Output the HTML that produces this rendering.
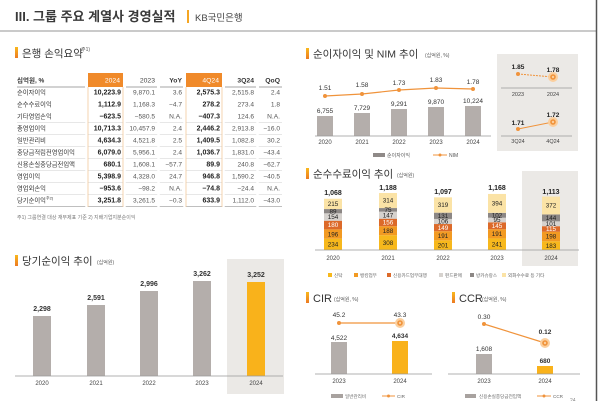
<!DOCTYPE html>
<html><head><meta charset="utf-8"><style>
html,body{margin:0;padding:0;background:#fff;width:600px;height:401px;overflow:hidden}
svg{display:block}
text{font-family:"Liberation Sans","Noto Sans CJK KR",sans-serif}
</style></head><body>
<svg width="600" height="401" viewBox="0 0 600 401" xmlns="http://www.w3.org/2000/svg">
<defs>
<linearGradient id="mk" x1="0" y1="0" x2="0" y2="1"><stop offset="0" stop-color="#f9b81c"/><stop offset="1" stop-color="#ec7a22"/></linearGradient>
</defs>
<rect x="0" y="0" width="600" height="401" fill="#fff"/>
<!-- header -->
<text x="15" y="21" font-size="13" font-weight="bold" fill="#3a3a3a">III. 그룹 주요 계열사 경영실적</text>
<rect x="187" y="10" width="2" height="13" fill="#f5a623"/>
<text x="195" y="21" font-size="9.5" fill="#444">KB국민은행</text>
<line x1="0" y1="31" x2="597" y2="31" stroke="#b8b8b8" stroke-width="1.5"/>
<line x1="596.5" y1="0" x2="596.5" y2="401" stroke="#555" stroke-width="1.5"/>

<!-- table section -->
<rect x="15" y="47" width="3" height="11" fill="url(#mk)"/>
<text x="22" y="57" font-size="10.5" fill="#333">은행 손익요약</text>
<text x="81" y="51" font-size="5" fill="#555">주1)</text>

<rect x="88" y="73" width="35" height="14" fill="#f08a2a"/>
<rect x="186" y="73" width="36" height="14" fill="#f08a2a"/>
<g font-size="6.8" text-anchor="end">
<text x="120" y="82.5" fill="#fff">2024</text>
<text x="219" y="82.5" fill="#fff">4Q24</text>
<text x="155" y="82.5" fill="#444">2023</text>
<text x="182" y="82.5" fill="#333" font-weight="bold">YoY</text>
<text x="254" y="82.5" fill="#333" font-weight="bold">3Q24</text>
<text x="280" y="82.5" fill="#333" font-weight="bold">QoQ</text>
</g>
<text x="17" y="82.5" font-size="6.5" font-weight="bold" fill="#333">십억원, %</text>
<g stroke="#888" stroke-width="0.8">
<line x1="17" y1="87" x2="85" y2="87"/><line x1="126" y1="87" x2="157" y2="87"/><line x1="160" y1="87" x2="183" y2="87"/><line x1="225" y1="87" x2="256" y2="87"/><line x1="259" y1="87" x2="282" y2="87"/>
</g>
<g stroke="#cfcfcf" stroke-width="0.6">
<line x1="17" y1="122.5" x2="282" y2="122.5"/>
<line x1="17" y1="134.5" x2="282" y2="134.5"/>
<line x1="17" y1="146.5" x2="282" y2="146.5"/>
<line x1="17" y1="158.5" x2="282" y2="158.5"/>
<line x1="17" y1="170.5" x2="282" y2="170.5"/>
<line x1="17" y1="182.5" x2="282" y2="182.5"/>
<line x1="17" y1="194.5" x2="282" y2="194.5"/>
</g>
<line x1="17" y1="206.5" x2="282" y2="206.5" stroke="#aaa" stroke-width="0.8"/>
<g stroke="#fff" stroke-width="2.5">
<line x1="86.5" y1="120" x2="86.5" y2="208"/><line x1="124.5" y1="120" x2="124.5" y2="208"/><line x1="158.5" y1="120" x2="158.5" y2="208"/><line x1="184.5" y1="120" x2="184.5" y2="208"/><line x1="223.5" y1="120" x2="223.5" y2="208"/><line x1="257.5" y1="120" x2="257.5" y2="208"/>
</g>
<g stroke="#f2c99c" stroke-width="0.8">
<line x1="88" y1="87" x2="88" y2="207"/><line x1="123" y1="87" x2="123" y2="207"/>
<line x1="186" y1="87" x2="186" y2="207"/><line x1="222" y1="87" x2="222" y2="207"/>
</g>
<g font-size="6.3" fill="#333">
<text x="17" y="94.5">순이자이익</text>
<text x="17" y="106.5">순수수료이익</text>
<text x="17" y="118.5">기타영업손익</text>
<text x="17" y="130.5">총영업이익</text>
<text x="17" y="142.5">일반관리비</text>
<text x="17" y="154.5">충당금적립전영업이익</text>
<text x="17" y="166.5">신용손실충당금전입액</text>
<text x="17" y="178.5">영업이익</text>
<text x="17" y="190.5">영업외손익</text>
<text x="17" y="202.5">당기순이익<tspan font-size="4" dy="-3">주2)</tspan></text>
</g>
<g font-size="7" text-anchor="end" font-weight="bold" fill="#222">
<text x="121" y="94.5">10,223.9</text><text x="121" y="106.5">1,112.9</text><text x="121" y="118.5">−623.5</text><text x="121" y="130.5">10,713.3</text><text x="121" y="142.5">4,634.3</text><text x="121" y="154.5">6,079.0</text><text x="121" y="166.5">680.1</text><text x="121" y="178.5">5,398.9</text><text x="121" y="190.5">−953.6</text><text x="121" y="202.5">3,251.8</text>
<text x="220" y="94.5">2,575.3</text><text x="220" y="106.5">278.2</text><text x="220" y="118.5">−407.3</text><text x="220" y="130.5">2,446.2</text><text x="220" y="142.5">1,409.5</text><text x="220" y="154.5">1,036.7</text><text x="220" y="166.5">89.9</text><text x="220" y="178.5">946.8</text><text x="220" y="190.5">−74.8</text><text x="220" y="202.5">633.9</text>
</g>
<g font-size="6.6" text-anchor="end" fill="#555">
<text x="155" y="94.5">9,870.1</text><text x="155" y="106.5">1,168.3</text><text x="155" y="118.5">−580.5</text><text x="155" y="130.5">10,457.9</text><text x="155" y="142.5">4,521.8</text><text x="155" y="154.5">5,956.1</text><text x="155" y="166.5">1,608.1</text><text x="155" y="178.5">4,328.0</text><text x="155" y="190.5">−98.2</text><text x="155" y="202.5">3,261.5</text>
<text x="182" y="94.5">3.6</text><text x="182" y="106.5">−4.7</text><text x="182" y="118.5">N.A.</text><text x="182" y="130.5">2.4</text><text x="182" y="142.5">2.5</text><text x="182" y="154.5">2.4</text><text x="182" y="166.5">−57.7</text><text x="182" y="178.5">24.7</text><text x="182" y="190.5">N.A.</text><text x="182" y="202.5">−0.3</text>
<text x="254" y="94.5">2,515.8</text><text x="254" y="106.5">273.4</text><text x="254" y="118.5">124.6</text><text x="254" y="130.5">2,913.8</text><text x="254" y="142.5">1,082.8</text><text x="254" y="154.5">1,831.0</text><text x="254" y="166.5">240.8</text><text x="254" y="178.5">1,590.2</text><text x="254" y="190.5">−24.4</text><text x="254" y="202.5">1,112.0</text>
<text x="280" y="94.5">2.4</text><text x="280" y="106.5">1.8</text><text x="280" y="118.5">N.A.</text><text x="280" y="130.5">−16.0</text><text x="280" y="142.5">30.2</text><text x="280" y="154.5">−43.4</text><text x="280" y="166.5">−62.7</text><text x="280" y="178.5">−40.5</text><text x="280" y="190.5">N.A.</text><text x="280" y="202.5">−43.0</text>
</g>
<text x="17" y="219" font-size="5" fill="#777">주1) 그룹연결 대상 재무제표 기준    2) 지배기업지분순이익</text>

<!-- net income chart -->
<rect x="15" y="255" width="3" height="11" fill="url(#mk)"/>
<text x="22" y="264.5" font-size="10.5" fill="#333">당기순이익 추이</text>
<text x="97" y="264" font-size="5" fill="#555">(십억원)</text>
<rect x="227" y="259" width="57" height="135" fill="#ebe9e6"/>
<g fill="#b4aeab">
<rect x="33" y="316" width="18" height="60"/>
<rect x="87" y="305" width="18" height="71"/>
<rect x="140" y="291" width="18" height="85"/>
<rect x="193" y="281" width="18" height="95"/>
</g>
<rect x="247" y="282" width="18" height="94" fill="#f9b21b"/>
<line x1="15" y1="376" x2="283" y2="376" stroke="#999" stroke-width="0.8"/>
<g font-size="7" font-weight="bold" fill="#333" text-anchor="middle">
<text x="42" y="311">2,298</text><text x="96" y="300">2,591</text><text x="149" y="286">2,996</text><text x="202" y="276">3,262</text><text x="256" y="277">3,252</text>
</g>
<g font-size="6" fill="#444" text-anchor="middle">
<text x="42" y="385">2020</text><text x="96" y="385">2021</text><text x="149" y="385">2022</text><text x="202" y="385">2023</text><text x="256" y="385">2024</text>
</g>

<!-- NIM chart -->
<rect x="306" y="48" width="3" height="11" fill="url(#mk)"/>
<text x="313" y="57.5" font-size="10.5" fill="#333">순이자이익 및 NIM 추이</text>
<text x="425" y="57" font-size="5" fill="#555">(십억원, %)</text>
<g fill="#b4aeab">
<rect x="317" y="116" width="16" height="20"/><rect x="354" y="113" width="16" height="23"/><rect x="391" y="109" width="16" height="27"/><rect x="428" y="107" width="16" height="29"/><rect x="465" y="106" width="16" height="30"/>
</g>
<line x1="315" y1="136" x2="491" y2="136" stroke="#999" stroke-width="0.8"/>
<g font-size="6.5" fill="#333" text-anchor="middle">
<text x="325" y="113">6,755</text><text x="362" y="110">7,729</text><text x="399" y="106">9,291</text><text x="436" y="104">9,870</text><text x="473" y="103">10,224</text>
<text x="325" y="90">1.51</text><text x="362" y="87">1.58</text><text x="399" y="85">1.73</text><text x="436" y="82">1.83</text><text x="473" y="84">1.78</text>
</g>
<polyline points="325,96 362,94 399,90 436,88 473,89" fill="none" stroke="#f0933b" stroke-width="1.2"/>
<g fill="#f0933b"><circle cx="325" cy="96" r="2"/><circle cx="362" cy="94" r="2"/><circle cx="399" cy="90" r="2"/><circle cx="436" cy="88" r="2"/><circle cx="473" cy="89" r="2"/></g>
<g font-size="6" fill="#444" text-anchor="middle">
<text x="325" y="144">2020</text><text x="362" y="144">2021</text><text x="399" y="144">2022</text><text x="436" y="144">2023</text><text x="473" y="144">2024</text>
</g>
<rect x="373" y="153" width="12" height="4" fill="#8f8a88"/>
<text x="387" y="157" font-size="5" fill="#555">순이자이익</text>
<line x1="433" y1="155" x2="447" y2="155" stroke="#f0933b" stroke-width="1"/><circle cx="440" cy="155" r="1.5" fill="#f0933b"/>
<text x="449" y="157" font-size="5" fill="#555">NIM</text>

<!-- inset -->
<rect x="497" y="54" width="81" height="97" fill="#ebe9e6"/>
<line x1="518" y1="74" x2="553" y2="77" stroke="#f0933b" stroke-width="1" stroke-dasharray="2,1"/>
<circle cx="518" cy="74" r="2" fill="#f0933b"/>
<circle cx="553" cy="77" r="5" fill="#fbcf9e"/><circle cx="553" cy="77" r="2.8" fill="#f0933b"/><circle cx="553" cy="77" r="1.2" fill="#fbcf9e"/>
<line x1="501" y1="88" x2="572" y2="88" stroke="#999" stroke-width="0.8"/>
<line x1="518" y1="129" x2="553" y2="122" stroke="#f0933b" stroke-width="1"/>
<circle cx="518" cy="129" r="2" fill="#f0933b"/>
<circle cx="553" cy="122" r="5" fill="#fbcf9e"/><circle cx="553" cy="122" r="2.8" fill="#f0933b"/><circle cx="553" cy="122" r="1.2" fill="#fbcf9e"/>
<line x1="501" y1="136" x2="572" y2="136" stroke="#999" stroke-width="0.8"/>
<g font-size="6.5" font-weight="bold" fill="#222" text-anchor="middle">
<text x="518" y="69">1.85</text><text x="553" y="72">1.78</text><text x="518" y="125">1.71</text><text x="553" y="117">1.72</text>
</g>
<g font-size="5.5" fill="#444" text-anchor="middle">
<text x="518" y="96">2023</text><text x="553" y="96">2024</text><text x="518" y="143">3Q24</text><text x="553" y="143">4Q24</text>
</g>

<!-- fee income chart -->
<rect x="306" y="168" width="3" height="11" fill="url(#mk)"/>
<text x="313" y="177.5" font-size="10.5" fill="#333">순수수료이익 추이</text>
<text x="397" y="177" font-size="5" fill="#555">(십억원)</text>
<rect x="522" y="171" width="56" height="95" fill="#ebe9e6"/>
<!-- 2020 -->
<g>
<rect x="324" y="238.77" width="18" height="11.23" fill="#f7b81c"/>
<rect x="324" y="229.36" width="18" height="9.41" fill="#f29a22"/>
<rect x="324" y="220.72" width="18" height="8.64" fill="#dc6a2a"/>
<rect x="324" y="213.33" width="18" height="7.39" fill="#d6d2ce"/>
<rect x="324" y="209.06" width="18" height="4.27" fill="#8c8785"/>
<rect x="324" y="198.74" width="18" height="10.32" fill="#fbe3a6"/>
</g>
<g>
<rect x="379" y="235.22" width="18" height="14.78" fill="#f7b81c"/>
<rect x="379" y="226.19" width="18" height="9.03" fill="#f29a22"/>
<rect x="379" y="218.70" width="18" height="7.49" fill="#dc6a2a"/>
<rect x="379" y="211.65" width="18" height="7.05" fill="#d6d2ce"/>
<rect x="379" y="208.05" width="18" height="3.6" fill="#8c8785"/>
<rect x="379" y="192.98" width="18" height="15.07" fill="#fbe3a6"/>
</g>
<g>
<rect x="434" y="240.35" width="18" height="9.65" fill="#f7b81c"/>
<rect x="434" y="231.18" width="18" height="9.17" fill="#f29a22"/>
<rect x="434" y="224.03" width="18" height="7.15" fill="#dc6a2a"/>
<rect x="434" y="218.94" width="18" height="5.09" fill="#d6d2ce"/>
<rect x="434" y="212.66" width="18" height="6.28" fill="#8c8785"/>
<rect x="434" y="197.34" width="18" height="15.32" fill="#fbe3a6"/>
</g>
<g>
<rect x="488" y="238.43" width="18" height="11.57" fill="#f7b81c"/>
<rect x="488" y="229.26" width="18" height="9.17" fill="#f29a22"/>
<rect x="488" y="222.30" width="18" height="6.96" fill="#dc6a2a"/>
<rect x="488" y="217.74" width="18" height="4.56" fill="#d6d2ce"/>
<rect x="488" y="212.85" width="18" height="4.89" fill="#8c8785"/>
<rect x="488" y="193.94" width="18" height="18.91" fill="#fbe3a6"/>
</g>
<g>
<rect x="542" y="241.22" width="18" height="8.78" fill="#f7b81c"/>
<rect x="542" y="231.71" width="18" height="9.51" fill="#f29a22"/>
<rect x="542" y="226.19" width="18" height="5.52" fill="#dc6a2a"/>
<rect x="542" y="221.34" width="18" height="4.85" fill="#d6d2ce"/>
<rect x="542" y="214.43" width="18" height="6.91" fill="#8c8785"/>
<rect x="542" y="196.58" width="18" height="17.85" fill="#fbe3a6"/>
</g>
<line x1="315" y1="250" x2="579" y2="250" stroke="#999" stroke-width="0.8"/>
<g font-size="6.3" fill="#222" text-anchor="middle">
<text x="333" y="246.6">234</text><text x="333" y="236.3">196</text><text x="333" y="227.2" fill="#fff">180</text><text x="333" y="219.2">154</text><text x="333" y="213.4">89</text><text x="333" y="206.1">215</text>
<text x="388" y="244.8">308</text><text x="388" y="232.9">188</text><text x="388" y="224.6" fill="#fff">156</text><text x="388" y="217.4">147</text><text x="388" y="212.1">75</text><text x="388" y="202.7">314</text>
<text x="443" y="247.4">201</text><text x="443" y="238">191</text><text x="443" y="229.8" fill="#fff">149</text><text x="443" y="223.7">106</text><text x="443" y="218">131</text><text x="443" y="207">319</text>
<text x="497" y="246.4">241</text><text x="497" y="236">191</text><text x="497" y="228" fill="#fff">145</text><text x="497" y="222.2">95</text><text x="497" y="217.5">102</text><text x="497" y="205.6">394</text>
<text x="551" y="247.8">183</text><text x="551" y="238.7">198</text><text x="551" y="231.2" fill="#fff">115</text><text x="551" y="226">101</text><text x="551" y="220.2">144</text><text x="551" y="207.6">372</text>
</g>
<g font-size="7" font-weight="bold" fill="#222" text-anchor="middle">
<text x="333" y="195">1,068</text><text x="388" y="190">1,188</text><text x="443" y="194">1,097</text><text x="497" y="190">1,168</text><text x="551" y="194">1,113</text>
</g>
<g font-size="6" fill="#444" text-anchor="middle">
<text x="333" y="260">2020</text><text x="388" y="260">2021</text><text x="443" y="260">2022</text><text x="497" y="260">2023</text><text x="551" y="260">2024</text>
</g>
<g font-size="4.6" fill="#666">
<rect x="328" y="273" width="4" height="4" fill="#f7b81c"/><text x="334" y="277">신탁</text>
<rect x="354" y="273" width="4" height="4" fill="#f29a22"/><text x="360" y="277">뱅킹업무</text>
<rect x="387" y="273" width="4" height="4" fill="#dc6a2a"/><text x="393" y="277">신용카드업무대행</text>
<rect x="439" y="273" width="4" height="4" fill="#d6d2ce"/><text x="445" y="277">펀드판매</text>
<rect x="470" y="273" width="4" height="4" fill="#8c8785"/><text x="476" y="277">방카슈랑스</text>
<rect x="502" y="273" width="4" height="4" fill="#fbe3a6"/><text x="508" y="277">외화수수료 등 기타</text>
</g>

<!-- CIR -->
<rect x="306" y="292" width="3" height="11" fill="url(#mk)"/>
<text x="313" y="302" font-size="11" fill="#333">CIR</text>
<text x="334" y="301" font-size="5" fill="#555">(십억원, %)</text>
<rect x="331" y="342" width="16" height="32" fill="#b4aeab"/>
<rect x="392" y="341" width="16" height="33" fill="#f9b21b"/>
<line x1="315" y1="374" x2="432" y2="374" stroke="#999" stroke-width="0.8"/>
<line x1="339" y1="323" x2="400" y2="323" stroke="#f0933b" stroke-width="1.2"/>
<circle cx="339" cy="323" r="2" fill="#f0933b"/>
<circle cx="400" cy="323" r="5" fill="#fbcf9e"/><circle cx="400" cy="323" r="2.8" fill="#f0933b"/><circle cx="400" cy="323" r="1.2" fill="#fbcf9e"/>
<g font-size="6.5" fill="#333" text-anchor="middle">
<text x="339" y="340">4,522</text><text x="400" y="338" font-weight="bold">4,634</text>
<text x="339" y="317">45.2</text><text x="400" y="317">43.3</text>
</g>
<g font-size="6" fill="#444" text-anchor="middle"><text x="339" y="383">2023</text><text x="400" y="383">2024</text></g>
<rect x="331" y="394" width="12" height="4" fill="#a8a29f"/>
<text x="345" y="398" font-size="4.6" fill="#666">일반관리비</text>
<line x1="382" y1="396" x2="395" y2="396" stroke="#f0933b" stroke-width="1"/><circle cx="388.5" cy="396" r="1.5" fill="#f0933b"/>
<text x="397" y="398" font-size="4.6" fill="#666">CIR</text>

<!-- CCR -->
<rect x="452" y="292" width="3" height="11" fill="url(#mk)"/>
<text x="459" y="302" font-size="11" fill="#333">CCR</text>
<text x="482" y="301" font-size="5" fill="#555">(십억원, %)</text>
<rect x="476" y="354" width="16" height="20" fill="#b4aeab"/>
<rect x="537" y="366" width="16" height="8" fill="#f9b21b"/>
<line x1="448" y1="374" x2="580" y2="374" stroke="#999" stroke-width="0.8"/>
<line x1="484" y1="324" x2="545" y2="343" stroke="#f0933b" stroke-width="1.2"/>
<circle cx="484" cy="324" r="2" fill="#f0933b"/>
<circle cx="545" cy="343" r="5" fill="#fbcf9e"/><circle cx="545" cy="343" r="2.8" fill="#f0933b"/><circle cx="545" cy="343" r="1.2" fill="#fbcf9e"/>
<g font-size="6.5" fill="#333" text-anchor="middle">
<text x="484" y="351">1,608</text><text x="545" y="363" font-weight="bold">680</text>
<text x="484" y="319">0.30</text><text x="545" y="334" font-weight="bold">0.12</text>
</g>
<g font-size="6" fill="#444" text-anchor="middle"><text x="484" y="383">2023</text><text x="545" y="383">2024</text></g>
<rect x="465" y="394" width="11" height="4" fill="#a8a29f"/>
<text x="479" y="398" font-size="4.6" fill="#666">신용손실충당금전입액</text>
<line x1="537" y1="396" x2="551" y2="396" stroke="#f0933b" stroke-width="1"/><circle cx="544" cy="396" r="1.5" fill="#f0933b"/>
<text x="553" y="398" font-size="4.6" fill="#666">CCR</text>
<text x="570" y="402" font-size="5" fill="#888">24</text>
</svg>
</body></html>
